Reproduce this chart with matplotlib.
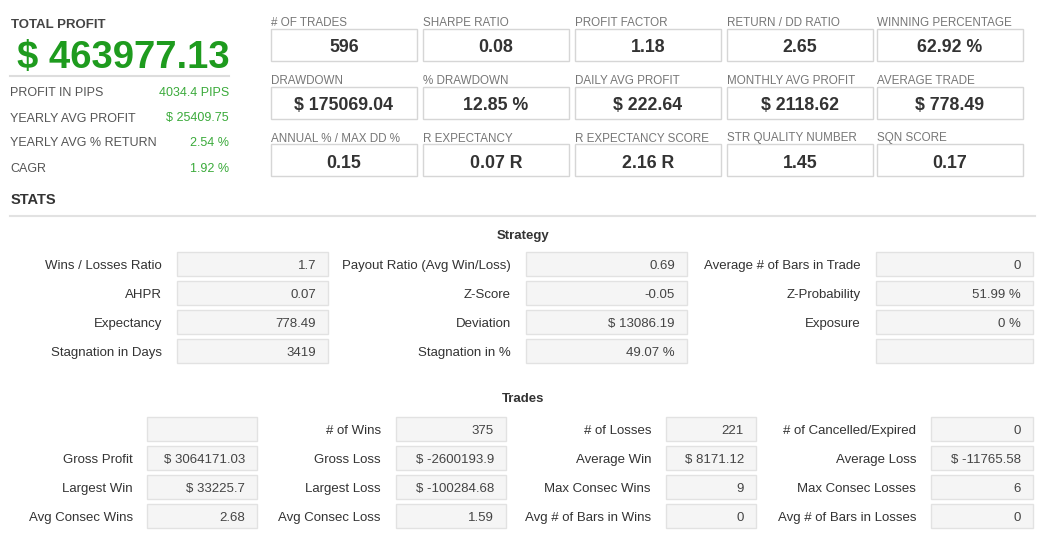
import matplotlib
matplotlib.use('Agg')
from matplotlib import pyplot as plt
from matplotlib.patches import Rectangle

# Summary numbers on the left
total_profit = "$ 463977.13"
side_labels = ["PROFIT IN PIPS", "YEARLY AVG PROFIT", "YEARLY AVG % RETURN", "CAGR"]
side_values = ["4034.4 PIPS", "$ 25409.75", "2.54 %", "1.92 %"]

# Top metric boxes (3 rows x 5 columns)
top_labels = [
    ["# OF TRADES", "SHARPE RATIO", "PROFIT FACTOR", "RETURN / DD RATIO", "WINNING PERCENTAGE"],
    ["DRAWDOWN", "% DRAWDOWN", "DAILY AVG PROFIT", "MONTHLY AVG PROFIT", "AVERAGE TRADE"],
    ["ANNUAL % / MAX DD %", "R EXPECTANCY", "R EXPECTANCY SCORE", "STR QUALITY NUMBER", "SQN SCORE"],
]
top_values = [
    ["596", "0.08", "1.18", "2.65", "62.92 %"],
    ["$ 175069.04", "12.85 %", "$ 222.64", "$ 2118.62", "$ 778.49"],
    ["0.15", "0.07 R", "2.16 R", "1.45", "0.17"],
]

# Strategy table (rows x 3 columns)
strategy_labels = [
    ["Wins / Losses Ratio", "Payout Ratio (Avg Win/Loss)", "Average # of Bars in Trade"],
    ["AHPR", "Z-Score", "Z-Probability"],
    ["Expectancy", "Deviation", "Exposure"],
    ["Stagnation in Days", "Stagnation in %", ""],
]
strategy_values = [
    ["1.7", "0.69", "0"],
    ["0.07", "-0.05", "51.99 %"],
    ["778.49", "$ 13086.19", "0 %"],
    ["3419", "49.07 %", ""],
]

# Trades table (rows x 4 columns)
trades_labels = [
    ["", "# of Wins", "# of Losses", "# of Cancelled/Expired"],
    ["Gross Profit", "Gross Loss", "Average Win", "Average Loss"],
    ["Largest Win", "Largest Loss", "Max Consec Wins", "Max Consec Losses"],
    ["Avg Consec Wins", "Avg Consec Loss", "Avg # of Bars in Wins", "Avg # of Bars in Losses"],
]
trades_values = [
    ["", "375", "221", "0"],
    ["$ 3064171.03", "$ -2600193.9", "$ 8171.12", "$ -11765.58"],
    ["$ 33225.7", "$ -100284.68", "9", "6"],
    ["2.68", "1.59", "0", "0"],
]

plt.rcParams['font.family'] = ['Liberation Sans', 'DejaVu Sans']

fig = plt.figure(figsize=(10.48, 5.36), dpi=100)
ax = fig.add_axes([0, 0, 1, 1])
ax.set_xlim(0, 1048)
ax.set_ylim(536, 0)
ax.axis('off')

VA = 'center_baseline'

# left summary block
ax.text(11, 24, "TOTAL PROFIT", fontsize=9.5, fontweight='bold', color='#444444', va=VA)
ax.text(17, 54, total_profit, fontsize=27.5, fontweight='bold', color='#1e9b1e', va=VA)
ax.plot([10, 229], [76, 76], color='#dddddd', lw=1.5)
for i, (lab, val) in enumerate(zip(side_labels, side_values)):
    y = 92 + i * 25
    ax.text(10, y, lab, fontsize=9, color='#555555', va=VA)
    ax.text(229, y, val, fontsize=9, color='#3aaa3a', va=VA, ha='right')

# top metric boxes
col_x = [271, 423, 575, 727, 877]
row_y = [29, 87, 144]
for r in range(len(top_labels)):
    for c in range(len(top_labels[r])):
        x0, y0 = col_x[c], row_y[r]
        ax.text(x0, y0 - 7, top_labels[r][c], fontsize=8.4, color='#777777', va=VA)
        ax.add_patch(Rectangle((x0, y0), 146, 32, facecolor='white', edgecolor='#d6d6d6', lw=1))
        ax.text(x0 + 73, y0 + 17, top_values[r][c], fontsize=12.8, fontweight='bold',
                color='#333333', va=VA, ha='center')

# STATS header
ax.text(11, 199, "STATS", fontsize=10.5, fontweight='bold', color='#333333', va=VA)
ax.plot([10, 1035], [216, 216], color='#e2e2e2', lw=1.5)


def draw_table(title, title_y, labels, values, cols, tops):
    ax.text(523, title_y, title, fontsize=9.5, fontweight='bold', color='#333333',
            va=VA, ha='center')
    for r in range(len(labels)):
        for c in range(len(labels[r])):
            lab_x, bx0, bx1 = cols[c]
            y0 = tops[r]
            ax.add_patch(Rectangle((bx0, y0), bx1 - bx0, 24, facecolor='#f5f5f5',
                                   edgecolor='#e2e2e2', lw=1))
            ax.text(lab_x, y0 + 12.5, labels[r][c], fontsize=9.5, color='#333333',
                    va=VA, ha='right')
            ax.text(bx1 - 12, y0 + 12.5, values[r][c], fontsize=9.5, color='#444444',
                    va=VA, ha='right')


draw_table("Strategy", 234, strategy_labels, strategy_values,
           [(162, 177, 328), (511, 526, 687), (861, 876, 1033)],
           [252, 281, 310, 339])
draw_table("Trades", 398, trades_labels, trades_values,
           [(133, 147, 257), (381, 396, 506), (651, 666, 756), (916, 931, 1033)],
           [417, 446, 475, 504])

fig.savefig('out.png', dpi=100, facecolor='white')
